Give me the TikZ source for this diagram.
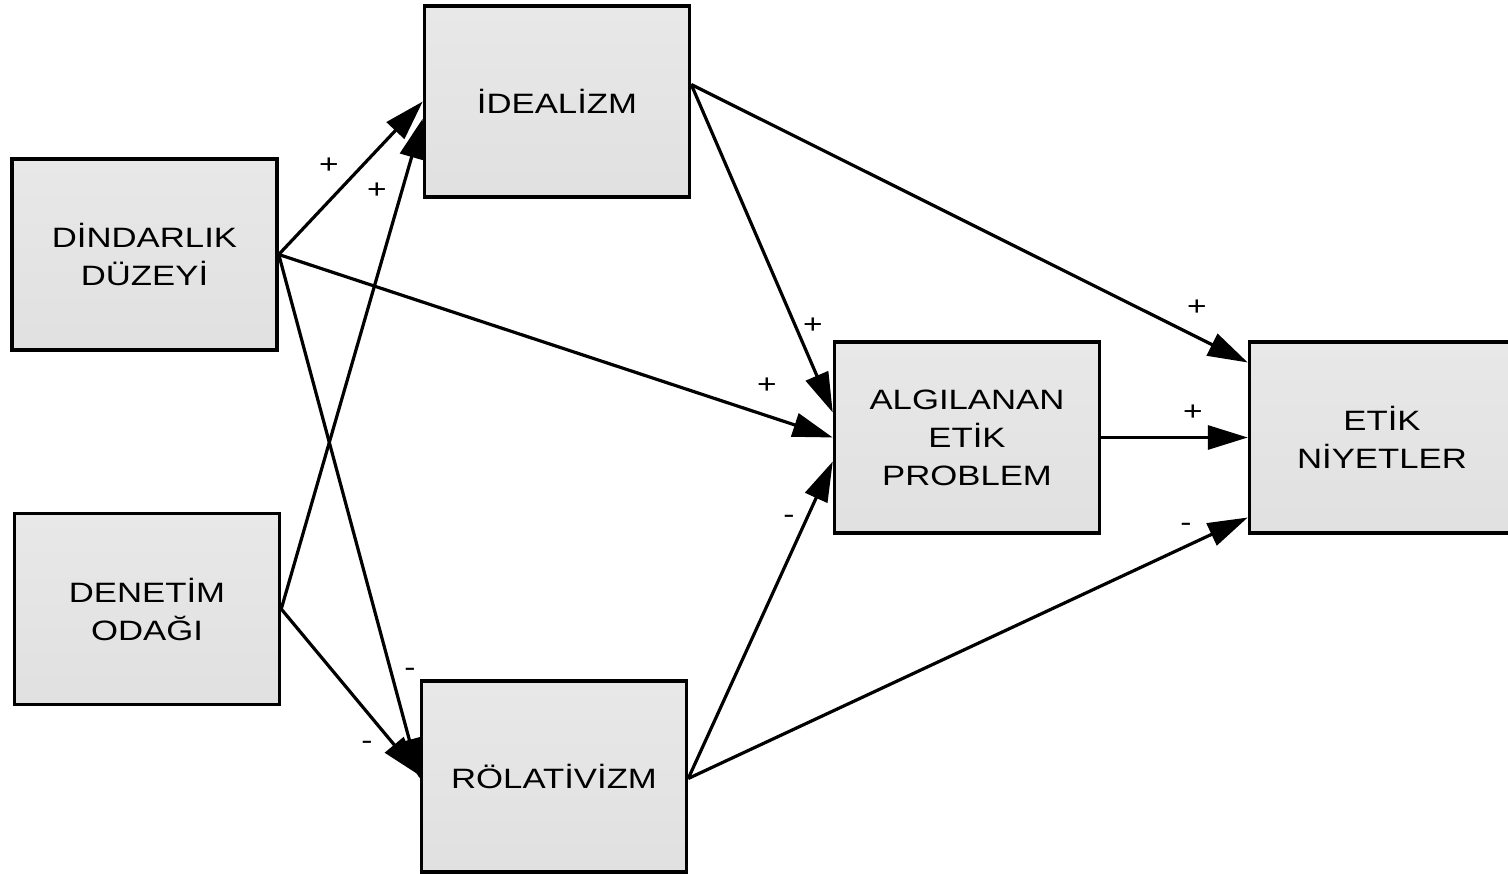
\documentclass[tikz,border=0pt]{standalone}
\usepackage{fontspec}
\setmainfont{Liberation Sans}[FakeStretch=1.24]
\usetikzlibrary{arrows.meta,calc}
\begin{document}
\begin{tikzpicture}[x=1pt,y=-1pt,
  box/.style={draw=black, line width=3.5pt, top color=black!9, bottom color=black!12,
    minimum width=265pt, minimum height=191pt, inner sep=0pt, align=center,
    font=\fontsize{28}{38}\selectfont},
  link/.style={line width=3.2pt, -{Triangle[length=40pt,width=24pt]}},
  sign/.style={font=\fontsize{27}{27}\selectfont, inner sep=0pt}]
\useasboundingbox (0,0) rectangle (1508,874);
\clip (0,0) rectangle (1508,874);

% construct boxes
\node[box] (din) at (144.5,254.5) {DİNDARLIK\\DÜZEYİ};
\node[box] (den) at (147,609) {DENETİM\\ODAĞI};
\node[box] (ide) at (557,101.5) {İDEALİZM};
\node[box] (rol) at (554,776.5) {RÖLATİVİZM};
\node[box] (alg) at (967,437.5) {ALGILANAN\\ETİK\\PROBLEM};
\node[box] (etk) at (1382,437.5) {ETİK\\NİYETLER};

% hypothesised paths
\draw[link] (din.east) -- (ide.west);
\draw[link] (den.east) -- ($(ide.west)+(0,17)$);
\draw[link] (din.east) -- (alg.west);
\draw[link] (din.east) -- ($(rol.west)+(0,2)$);
\draw[link] (den.east) -- ($(rol.west)+(0,-1)$);
\draw[link] ($(ide.east)+(0,-17)$) -- ($(alg.west)+(0,-25)$);
\draw[link] ($(ide.east)+(0,-17)$) -- ($(etk.west)+(0,-75)$);
\draw[link] ($(rol.east)+(0,2)$) -- ($(alg.west)+(0,24)$);
\draw[link] ($(rol.east)+(0,2)$) -- ($(etk.west)+(0,80)$);
\draw[link] (alg.east) -- (etk.west);

% signs of the paths
\node[sign] (s1) at (329,166) {+};
\node[sign] (s2) at (377,191) {+};
\node[sign] (s3) at (813,326) {+};
\node[sign] (s4) at (767,386) {+};
\node[sign] (s5) at (1197,308) {+};
\node[sign] (s6) at (1193,413) {+};
\node[sign] (s7) at (410,672) {-};
\node[sign] (s8) at (367,745) {-};
\node[sign] (s9) at (789,519) {-};
\node[sign] (s10) at (1186,527) {-};
\end{tikzpicture}
\end{document}
